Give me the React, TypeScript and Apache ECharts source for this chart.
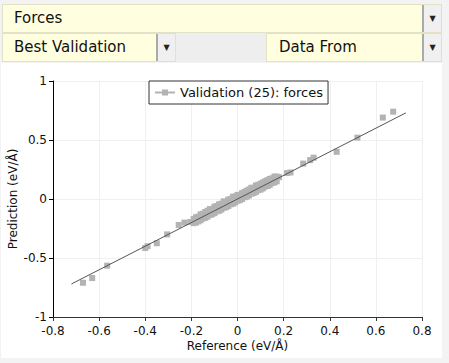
import React, { useEffect, useRef } from "react";
import * as echarts from "echarts";

const seriesName = "Validation (25): forces";
const xAxisName = "Reference (eV/Å)";
const yAxisName = "Prediction (eV/Å)";
const xTicks = { min: -0.8, max: 0.8, interval: 0.2 };
const yTicks = { min: -1, max: 1, interval: 0.5 };

// validation points (reference, prediction)
const outlierX = [-0.67, -0.63, -0.565, -0.4, -0.39, -0.35, -0.305, -0.255, -0.23, -0.205, 0.18, 0.215, 0.23, 0.285, 0.315, 0.33, 0.43, 0.52, 0.63, 0.675];
const outlierY = [-0.71, -0.67, -0.565, -0.415, -0.4, -0.375, -0.3, -0.22, -0.2, -0.195, 0.185, 0.22, 0.225, 0.3, 0.33, 0.35, 0.4, 0.52, 0.69, 0.74];
const clusterX = [-0.19, -0.18, -0.17, -0.16, -0.15, -0.14, -0.13, -0.12, -0.11, -0.1, -0.09, -0.08, -0.07, -0.06, -0.05, -0.04, -0.03, -0.02, -0.01, 0, 0.01, 0.02, 0.03, 0.04, 0.05, 0.06, 0.07, 0.08, 0.09, 0.1, 0.11, 0.12, 0.13, 0.14, 0.15, 0.16, 0.17];
const clusterAboveY = [-0.17, -0.155, -0.15, -0.13, -0.125, -0.11, -0.1, -0.085, -0.085, -0.065, -0.06, -0.045, -0.04, -0.02, -0.025, -0.005, 0.0, 0.02, 0.02, 0.035, 0.035, 0.05, 0.06, 0.07, 0.08, 0.095, 0.095, 0.115, 0.12, 0.13, 0.14, 0.15, 0.16, 0.17, 0.175, 0.19, 0.19];
const clusterBelowY = [-0.205, -0.2, -0.19, -0.18, -0.165, -0.16, -0.15, -0.135, -0.13, -0.12, -0.105, -0.1, -0.09, -0.075, -0.07, -0.06, -0.045, -0.04, -0.03, -0.015, -0.01, 0.0, 0.015, 0.02, 0.03, 0.045, 0.05, 0.06, 0.075, 0.08, 0.09, 0.105, 0.11, 0.12, 0.135, 0.14, 0.15];
const fitX = [-0.72, 0.73];
const fitY = [-0.72, 0.73];

const FONT = "'DejaVu Sans', sans-serif";

function Dropdown(props: { left: number; top: number; width: number; label: string; textLeft?: number }) {
  const { left, top, width, label, textLeft = 11 } = props;
  return (
    <div
      style={{
        position: "absolute",
        left,
        top,
        width,
        height: 29,
        boxSizing: "border-box",
        background: "#ffffdf",
        border: "1px solid #e2e2c6",
        fontFamily: FONT,
        fontSize: 15,
        color: "#111",
      }}
    >
      <div style={{ position: "absolute", left: textLeft, top: 4 }}>{label}</div>
      <div
        style={{
          position: "absolute",
          right: 0,
          top: 0,
          width: 17,
          height: 27,
          background: "#f0f0f0",
          borderLeft: "2px solid #aaa",
          fontSize: 8,
          textAlign: "center",
          lineHeight: "27px",
          color: "#222",
        }}
      >
        ▼
      </div>
    </div>
  );
}

export default function App() {
  const ref = useRef<HTMLDivElement>(null);

  useEffect(() => {
    document.body.style.margin = "0";
    if (!ref.current) return;
    const chart = echarts.init(ref.current, undefined, { renderer: "svg" });
    const pts: number[][] = [];
    outlierX.forEach((x, i) => pts.push([x, outlierY[i]]));
    clusterX.forEach((x, i) => pts.push([x, clusterAboveY[i]]));
    clusterX.forEach((x, i) => pts.push([x, clusterBelowY[i]]));
    const fit = fitX.map((x, i) => [x, fitY[i]]);
    const axisText = { color: "#111", fontSize: 12, fontFamily: FONT };
    chart.setOption({
      animation: false,
      textStyle: { fontFamily: FONT },
      grid: { left: 52, right: 20, top: 18, bottom: 41, containLabel: false, outerBoundsMode: "none" },
      legend: {
        data: [
          {
            name: seriesName,
            icon: "path://M0,2L7,2L7,0L13,0L13,2L20,2L20,4L13,4L13,6L7,6L7,4L0,4Z",
          },
        ],
        left: 148,
        top: 18,
        itemWidth: 20,
        itemGap: 5,
        itemHeight: 6,
        padding: [5, 5, 5, 6],
        borderColor: "#333",
        borderWidth: 1,
        backgroundColor: "#fff",
        textStyle: { color: "#111", fontSize: 13, fontFamily: FONT },
      },
      xAxis: {
        type: "value",
        min: xTicks.min,
        max: xTicks.max,
        interval: xTicks.interval,
        name: xAxisName,
        nameLocation: "middle",
        nameGap: 23,
        nameMoveOverlap: false,
        nameTextStyle: { ...axisText, verticalAlign: "top" },
        axisLine: { show: true, onZero: false, lineStyle: { color: "#333", width: 1 } },
        axisTick: { show: true, length: 4, lineStyle: { color: "#333" } },
        axisLabel: { ...axisText, margin: 8, formatter: (v: number) => String(Math.round(v * 10) / 10) },
        splitLine: { show: true, lineStyle: { color: "#f0f0f0" } },
      },
      yAxis: {
        type: "value",
        min: yTicks.min,
        max: yTicks.max,
        interval: yTicks.interval,
        name: yAxisName,
        nameLocation: "middle",
        nameGap: 34,
        nameMoveOverlap: false,
        nameTextStyle: axisText,
        axisLine: { show: true, onZero: false, lineStyle: { color: "#000", width: 1 } },
        axisTick: { show: true, length: 4, lineStyle: { color: "#000" } },
        axisLabel: { ...axisText, margin: 6 },
        splitLine: { show: true, lineStyle: { color: "#f0f0f0" } },
      },
      series: [
        {
          name: seriesName,
          type: "scatter",
          symbol: "rect",
          symbolSize: 6,
          itemStyle: { color: "#b3b3b3", opacity: 1 },
          data: pts,
        },
        {
          name: "fit",
          type: "line",
          symbol: "none",
          lineStyle: { color: "#555", width: 1 },
          data: fit,
        },
      ],
    });
    return () => chart.dispose();
  }, []);

  return (
    <div style={{ position: "relative", width: 449, height: 363, background: "#f3f3f3", overflow: "hidden" }}>
      <Dropdown left={2} top={4} width={440} label="Forces" />
      <div style={{ position: "absolute", left: 176, top: 33, width: 90, height: 29, background: "#eeeeee" }} />
      <Dropdown left={2} top={33} width={174} label="Best Validation" />
      <Dropdown left={266} top={33} width={176} label="Data From" textLeft={12} />
      <div style={{ position: "absolute", left: 1, top: 63, width: 441, height: 295, background: "#fff" }}>
        <div ref={ref} style={{ width: 441, height: 295 }} />
      </div>
    </div>
  );
}
